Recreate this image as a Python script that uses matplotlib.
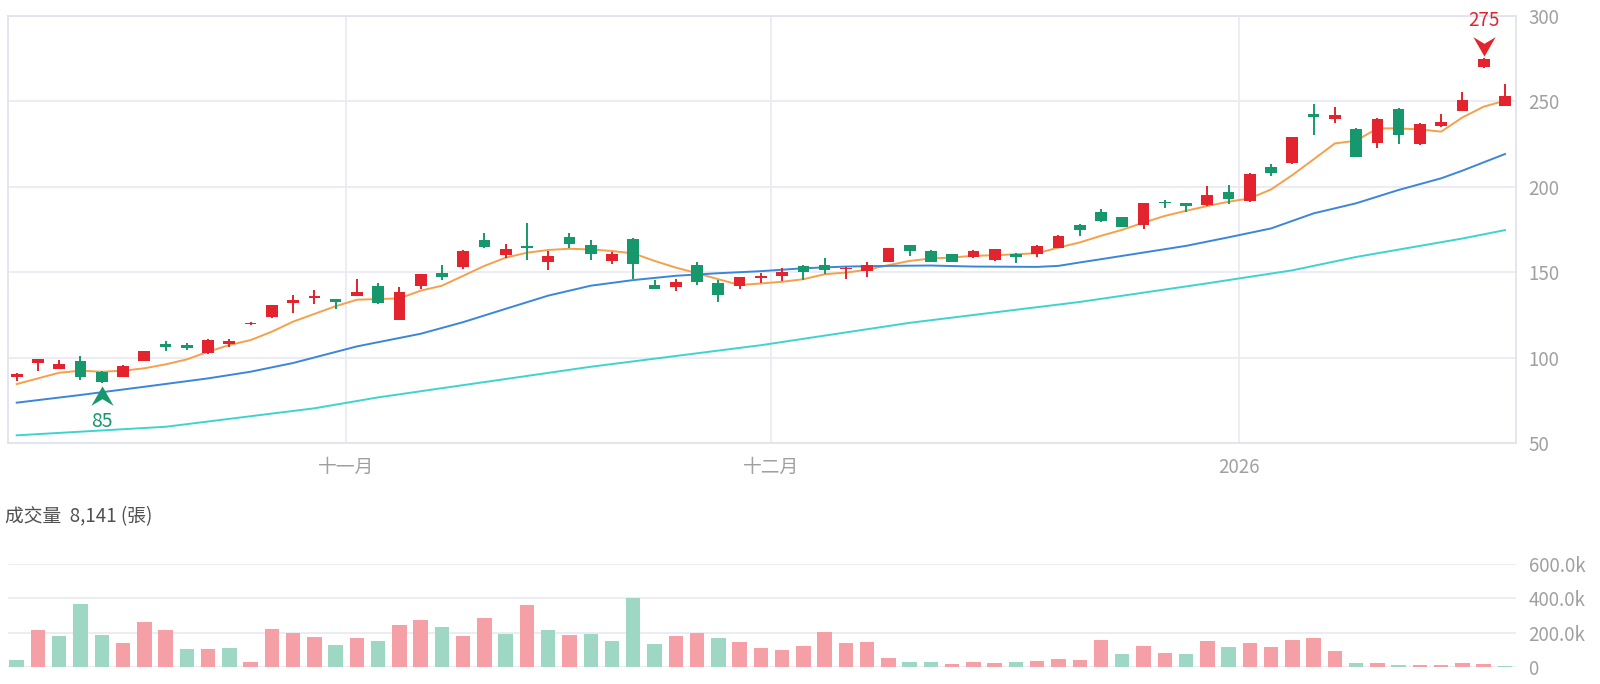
import matplotlib
matplotlib.use("Agg")
import matplotlib.pyplot as plt
import numpy as np
from matplotlib.path import Path
from matplotlib.transforms import offset_copy

plt.rcParams['font.family'] = ['Noto Sans CJK TC', 'DejaVu Sans']

# 日K資料 (讀圖估計)
opens = [88.5, 96.6, 93.3, 97.9, 91.7, 88.8, 98.1, 108.1, 107.5, 102.4,
         107.7, 119.4, 123.5, 131.7, 134.6, 134.2, 136.2, 142.0, 122.2, 142.0,
         149.3, 153.2, 168.5, 160.2, 165.2, 155.9, 170.4, 165.6, 156.5, 169.4,
         142.4, 141.4, 154.2, 143.3, 142.0, 146.4, 147.4, 153.6, 154.0, 151.6,
         150.7, 156.1, 165.8, 162.4, 160.4, 158.5, 157.3, 160.4, 160.4, 164.3,
         177.6, 185.2, 181.9, 177.4, 191.2, 190.1, 189.1, 196.6, 191.7, 211.2,
         213.5, 242.2, 239.3, 233.4, 225.2, 245.3, 224.9, 235.4, 244.3, 269.7,
         247.1]
highs = [91.0, 99.2, 98.3, 100.9, 92.2, 95.5, 104.0, 109.8, 108.3, 111.0,
         110.6, 120.5, 131.0, 136.3, 139.5, 134.5, 146.2, 143.3, 141.4, 149.0,
         154.0, 162.6, 172.9, 166.5, 178.7, 162.3, 172.9, 168.7, 162.0, 170.0,
         145.4, 145.8, 156.1, 145.5, 147.0, 149.7, 152.3, 154.0, 158.2, 153.0,
         155.9, 164.3, 166.0, 162.8, 160.8, 163.0, 163.5, 161.4, 165.6, 171.8,
         178.0, 186.7, 182.0, 190.4, 192.0, 190.5, 200.4, 200.9, 207.8, 213.0,
         229.0, 248.1, 246.7, 234.0, 240.0, 245.8, 237.0, 242.4, 255.1, 275.0,
         259.9]
lows = [86.0, 92.3, 93.0, 86.8, 85.0, 88.5, 98.0, 104.0, 104.5, 102.0,
        106.3, 119.3, 123.0, 125.8, 131.4, 128.4, 135.8, 131.5, 122.0, 140.1,
        145.5, 151.6, 164.3, 158.4, 157.1, 151.3, 164.2, 156.9, 154.5, 145.8,
        139.8, 139.1, 142.5, 132.7, 140.0, 143.3, 144.5, 145.3, 148.7, 146.2,
        147.2, 156.0, 159.4, 155.6, 155.8, 158.0, 156.5, 155.2, 159.0, 164.0,
        170.8, 179.0, 176.3, 175.4, 187.7, 185.2, 188.8, 189.8, 191.0, 206.3,
        213.0, 230.1, 237.0, 217.0, 222.3, 224.9, 224.5, 235.0, 244.0, 269.5,
        247.0]
closes = [90.5, 98.9, 96.0, 88.8, 85.5, 95.2, 103.8, 106.3, 105.4, 110.2,
          109.6, 120.4, 130.5, 133.6, 136.2, 132.7, 138.1, 131.9, 138.5, 148.7,
          147.0, 162.3, 164.6, 163.6, 164.0, 159.4, 166.5, 160.7, 160.3, 154.9,
          140.0, 143.9, 144.2, 136.8, 146.8, 147.8, 150.3, 149.9, 151.3, 152.6,
          154.0, 164.0, 162.3, 156.1, 156.1, 162.4, 163.2, 158.5, 165.3, 171.2,
          174.5, 179.9, 176.6, 190.1, 190.3, 188.7, 195.1, 192.7, 207.3, 207.7,
          228.8, 240.8, 241.8, 217.4, 239.5, 230.1, 236.5, 237.7, 250.6, 274.8,
          253.1]

# 成交量 (張) 與漲跌 (1=漲 紅, 0=跌 綠)
volumes = [42000, 218000, 178000, 369000, 186000, 140000, 264000, 214000, 105000, 105000,
           109000, 31000, 220000, 195000, 174000, 126000, 168000, 153000, 245000, 276000,
           232000, 180000, 285000, 191000, 362000, 218000, 188000, 193000, 153000, 404000,
           136000, 178000, 197000, 166000, 144000, 111000, 100000, 124000, 201000, 138000,
           144000, 50000, 31000, 31000, 19000, 31000, 21000, 29000, 33000, 44000,
           40000, 159000, 77000, 121000, 80000, 75000, 153000, 117000, 142000, 115000,
           155000, 168000, 92000, 23000, 21000, 13000, 13000, 11000, 21000, 17000,
           8141]
vol_up = [0, 1, 0, 0, 0, 1, 1, 1, 0, 1,
          0, 1, 1, 1, 1, 0, 1, 0, 1, 1,
          0, 1, 1, 0, 1, 0, 1, 0, 0, 0,
          0, 1, 1, 0, 1, 1, 1, 1, 1, 1,
          1, 1, 0, 0, 1, 1, 1, 0, 1, 1,
          1, 1, 0, 1, 1, 0, 1, 0, 1, 1,
          1, 1, 1, 0, 1, 0, 1, 1, 1, 1,
          0]

# 均線
ma5 = [84.5, 87.8, 91.1, 92.3, 91.7, 92.3, 93.7, 96.0, 98.9, 103.4,
       107.3, 110.2, 115.1, 121.0, 125.5, 130.0, 133.8, 134.2, 134.6, 139.1,
       142.0, 147.8, 153.6, 158.4, 161.3, 162.9, 163.6, 163.2, 162.3, 160.9,
       156.5, 152.6, 149.3, 145.8, 142.4, 143.3, 144.3, 145.8, 148.7, 149.7,
       151.3, 154.0, 156.5, 157.9, 158.5, 159.5, 159.8, 160.4, 161.0, 164.3,
       167.3, 171.2, 174.7, 178.9, 182.8, 185.8, 188.6, 191.1, 193.1, 198.3,
       206.7, 215.9, 225.2, 226.8, 234.0, 234.0, 233.4, 232.1, 240.4, 246.7,
       250.2]
ma20_idx = [0, 3, 6, 9, 11, 13, 16, 19, 21, 23, 25, 27, 29, 31, 33, 35, 37, 39,
            41, 43, 45, 48, 49, 50, 51, 53, 55, 57, 59, 61, 63, 65, 67, 68, 70]
ma20 = [73.6, 78.1, 82.9, 87.8, 91.7, 96.8, 106.5, 113.9, 120.7, 128.5, 136.2, 142.0,
        145.3, 147.8, 149.3, 150.5, 152.2, 153.2, 153.6, 153.8, 153.2, 153.0, 153.6,
        155.6, 157.5, 161.4, 165.3, 170.3, 175.5, 184.3, 190.2, 198.0, 204.8, 209.3, 219.0]
ma60_idx = [0, 7, 14, 17, 27, 35, 42, 50, 56, 60, 63, 68, 70]
ma60 = [54.5, 59.5, 70.3, 76.7, 94.6, 107.2, 120.3, 132.5, 143.4, 151.0, 158.8, 169.6, 174.5]

month_pos = [15.5, 35.5, 57.5]
month_labels = ['十一月', '十二月', '2026']

RED = '#e3232d'
GREEN = '#17986c'
GRID = '#e9ebf3'
TXT = '#a0a0a0'

x = np.arange(len(closes))
o = np.array(opens)
c = np.array(closes)
cols = np.where(c >= o, RED, GREEN)

fig = plt.figure(figsize=(16, 6.84), dpi=100)
ax = fig.add_axes([0.005, 0.3523, 0.9425, 0.625])
axv = fig.add_axes([0.005, 0.0249, 0.9425, 0.1506])

# K 線
ax.vlines(x, lows, highs, color=cols, lw=1.4, zorder=3)
ax.bar(x, np.maximum(np.abs(c - o), 0.6), bottom=np.minimum(o, c), width=0.55,
       color=cols, zorder=4)

ax.plot(x, ma5, color='#f5a04a', lw=1.4, zorder=2)
ax.plot(ma20_idx, ma20, color='#3a86d9', lw=1.4, zorder=2)
ax.plot(ma60_idx, ma60, color='#3fd3cf', lw=1.4, zorder=2)

# 最高 / 最低標記
arrow = Path([(0, 1), (1, -0.75), (0, -0.15), (-1, -0.75), (0, 1)],
             [Path.MOVETO, Path.LINETO, Path.LINETO, Path.LINETO, Path.CLOSEPOLY])
arrow_dn = Path([(0, -1), (1, 0.75), (0, 0.15), (-1, 0.75), (0, -1)],
                [Path.MOVETO, Path.LINETO, Path.LINETO, Path.LINETO, Path.CLOSEPOLY])
li = int(np.argmin(lows))
hi = int(np.argmax(highs))
ax.plot(li, lows[li], marker=arrow, ms=16, color=GREEN, mec='none',
        transform=offset_copy(ax.transData, fig=fig, y=-14, units='dots'), zorder=5)
ax.annotate(f"{lows[li]:g}", (li, lows[li]), xytext=(0, -38), textcoords='offset pixels',
            ha='center', va='center', color=GREEN, fontsize=14)
ax.plot(hi, highs[hi], marker=arrow_dn, ms=16, color=RED, mec='none',
        transform=offset_copy(ax.transData, fig=fig, y=13, units='dots'), zorder=5)
ax.annotate(f"{highs[hi]:g}", (hi, highs[hi]), xytext=(0, 38), textcoords='offset pixels',
            ha='center', va='center', color=RED, fontsize=13.5, annotation_clip=False)

ax.set_xlim(-0.41, 70.52)
ax.set_ylim(50, 300)
ax.set_yticks([50, 100, 150, 200, 250, 300])
ax.yaxis.tick_right()
ax.set_xticks(month_pos)
ax.set_xticklabels(month_labels)
ax.tick_params(length=0, colors=TXT, labelsize=13.5)
ax.tick_params(axis='y', pad=9)
ax.tick_params(axis='x', pad=10)
ax.grid(True, color=GRID, lw=1.3)
ax.set_axisbelow(True)
for s in ax.spines.values():
    s.set_color('#dfe2ec')
    s.set_linewidth(1.2)

# 成交量
vcols = np.where(np.array(vol_up) == 1, '#f4a0a6', '#9ed8c4')
axv.bar(x, volumes, width=0.68, color=vcols, zorder=3)
axv.set_xlim(-0.41, 70.52)
axv.set_ylim(0, 600000)
axv.set_yticks([0, 200000, 400000, 600000])
axv.set_yticklabels(['0' if v == 0 else f"{v/1000:.1f}k" for v in [0, 200000, 400000, 600000]])
axv.yaxis.tick_right()
axv.set_xticks([])
axv.tick_params(length=0, colors=TXT, labelsize=13.5, pad=9)
axv.grid(True, axis='y', color=GRID, lw=1.3)
axv.set_axisbelow(True)
for s in axv.spines.values():
    s.set_visible(False)

fig.text(5 / 1600, 1 - 517 / 684, f"成交量  {volumes[-1]:,} (張)", va='center', ha='left',
         fontsize=13.5, color='#505050')

fig.savefig('out.png', dpi=100)
